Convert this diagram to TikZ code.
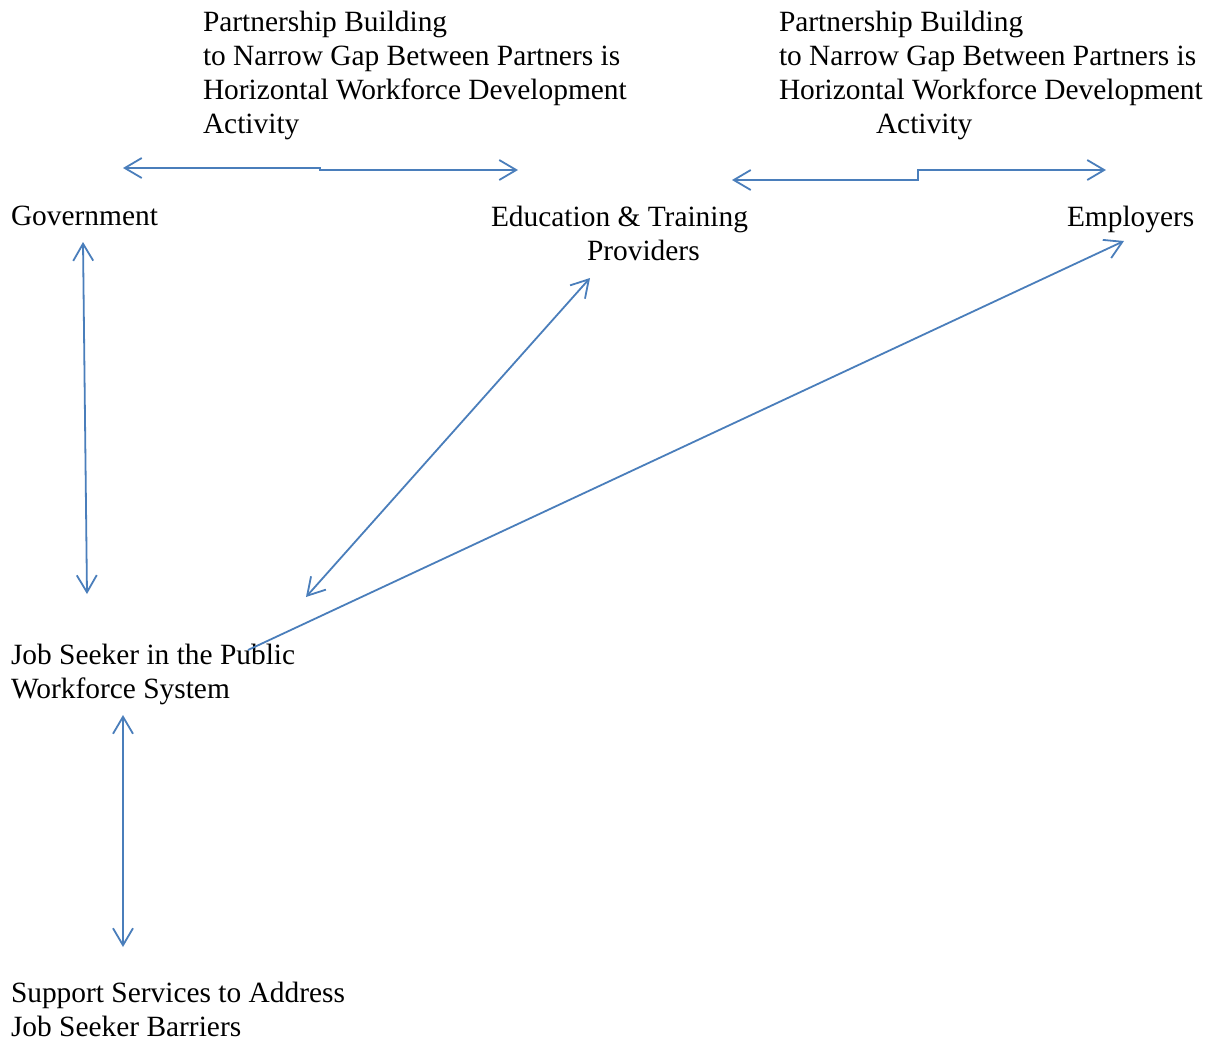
\documentclass[tikz,border=0pt]{standalone}
\usepackage{fontspec}
\setmainfont{Liberation Serif}
\usetikzlibrary{arrows.meta}
\definecolor{lineblue}{HTML}{4A7EBB}
\begin{document}
\begin{tikzpicture}[x=0.5pt,y=-0.5pt,
  lbl/.style={anchor=north west,inner sep=0pt,outer sep=0pt,align=left,
    font=\fontsize{14.7}{17}\selectfont},
  conn/.style={draw=lineblue,line width=0.9pt},
  tip/.tip={Straight Barb[length=8.5pt,width=10pt,line width=0.9pt]},
  both/.style={conn,tip-tip},
  one/.style={conn,-tip}]
\useasboundingbox (0,0) rectangle (1212,1040);
% labels
\node[lbl] (pl) at (203,11) {Partnership Building\\to Narrow Gap Between Partners is\\Horizontal Workforce Development\\Activity};
\node[lbl] (pr) at (779,11) {Partnership Building\\to Narrow Gap Between Partners is\\Horizontal Workforce Development\\\hspace*{48.5pt}Activity};
\node[lbl] (gov) at (11,206) {Government};
\node[lbl] (edu) at (491,206) {Education \& Training\\\hspace*{48pt}Providers};
\node[lbl] (emp) at (1067,206) {Employers};
\node[lbl] (js) at (11,644) {Job Seeker in the Public\\Workforce System};
\node[lbl] (ss) at (11,982) {Support Services to Address\\Job Seeker Barriers};
% endpoints
\coordinate (h1a) at (123,168);
\coordinate (h1b) at (518,170);
\coordinate (h2a) at (732,180);
\coordinate (h2b) at (1106,170);
\coordinate (g1) at (83,242);
\coordinate (g2) at (87,594);
\coordinate (e1) at (590,278);
\coordinate (e2) at (306,597);
\coordinate (m1) at (248,650);
\coordinate (m2) at (1124,241);
\coordinate (s1) at (123,715);
\coordinate (s2) at (123,947);
% connectors
\draw[both] (h1a) -- (320,168) -- (320,170) -- (h1b);
\draw[both] (h2a) -- (918,180) -- (918,170) -- (h2b);
\draw[both] (g1) -- (g2);
\draw[both] (e1) -- (e2);
\draw[one] (m1) -- (m2);
\draw[both] (s1) -- (s2);
\end{tikzpicture}
\end{document}
